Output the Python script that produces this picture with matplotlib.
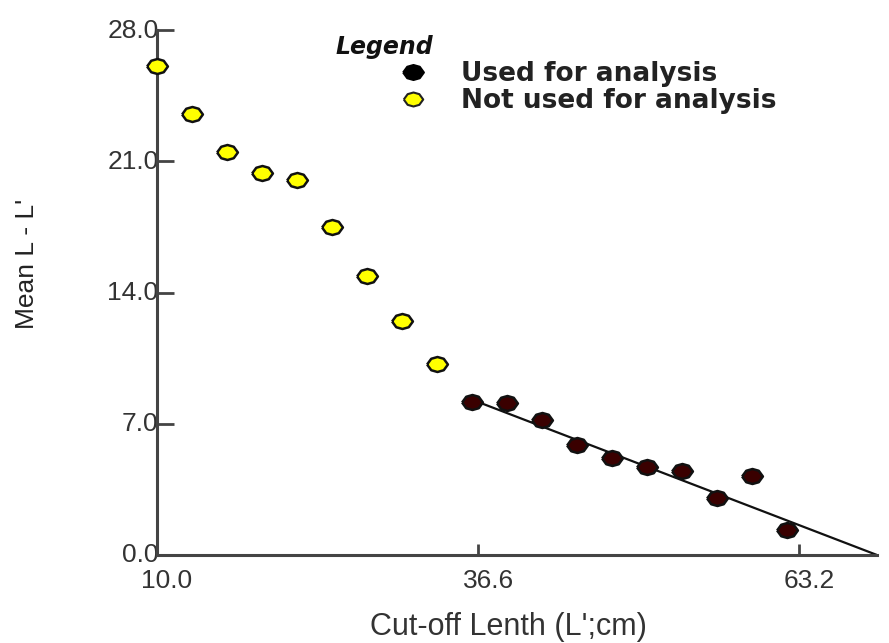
import matplotlib
matplotlib.use("Agg")
from matplotlib import pyplot as plt
from matplotlib import transforms
from matplotlib.lines import Line2D

# cut-off length classes (L', cm) and mean L - L' above each cut-off
not_used_x = [10.0, 12.9, 15.8, 18.7, 21.6, 24.5, 27.4, 30.3, 33.2]
not_used_y = [26.1, 23.5, 21.5, 20.4, 20.0, 17.5, 14.9, 12.5, 10.2]
used_x = [36.1, 39.0, 41.9, 44.8, 47.7, 50.6, 53.5, 56.4, 59.3, 62.2]
used_y = [8.15, 8.1, 7.2, 5.85, 5.2, 4.7, 4.5, 3.05, 4.2, 1.35]

# regression line a + b * L' fitted on the points used for analysis
reg_a = 17.2
reg_b = -0.247
l_inf = -reg_a / reg_b

x_ticks = [10.0, 36.6, 63.2]
y_ticks = [0.0, 7.0, 14.0, 21.0, 28.0]

# squashed octagon used as the point marker
blob = [(-1, 0), (-0.6, 0.55), (0, 0.72), (0.6, 0.55), (1, 0),
        (0.6, -0.55), (0, -0.72), (-0.6, -0.55), (-1, 0)]

text_col = "#333333"

fig = plt.figure(figsize=(8.89, 6.43), dpi=100)
ax = fig.add_axes([157 / 889, 88 / 643, 720 / 889, 525 / 643])

ax.plot([used_x[0], l_inf], [reg_a + reg_b * used_x[0], 0.0],
        color="#111111", lw=1.6, zorder=2)
ax.plot(not_used_x, not_used_y, ls="none", marker=blob, ms=15,
        mfc="#ffff00", mec="#111111", mew=1.8, zorder=3, clip_on=False)
ax.plot(used_x, used_y, ls="none", marker=blob, ms=15,
        mfc="#3a0000", mec="#111111", mew=1.8, zorder=3, clip_on=False)

ax.set_xlim(10.0, l_inf)
ax.set_ylim(0.0, 28.0)

for side in ["top", "right"]:
    ax.spines[side].set_visible(False)
for side in ["left", "bottom"]:
    ax.spines[side].set_linewidth(2.2)
    ax.spines[side].set_color("#444444")

ax.set_xticks(x_ticks)
ax.set_xticklabels(["%.1f" % v for v in x_ticks])
ax.set_yticks(y_ticks)
ax.set_yticklabels(["%.1f" % v for v in y_ticks])
ax.tick_params(axis="x", direction="in", length=8, width=2, color="#444444",
               pad=10, labelsize=19, labelcolor=text_col)
ax.tick_params(axis="y", direction="in", length=12, width=2, color="#444444",
               pad=-1, labelsize=19, labelcolor=text_col)

# nudge tick labels the way the original plotting program placed them
for lab in ax.get_xticklabels():
    lab.set_fontfamily("Liberation Sans")
    lab.set_transform(lab.get_transform() + transforms.ScaledTranslation(
        10 / 100, 0, fig.dpi_scale_trans))
for lab in ax.get_yticklabels():
    lab.set_fontfamily("Liberation Sans")
    lab.set_transform(lab.get_transform() + transforms.ScaledTranslation(
        0, 2 / 100, fig.dpi_scale_trans))

ax.set_xlabel("Cut-off Lenth (L';cm)", fontsize=22, color=text_col,
              family="Liberation Sans", va="center", ha="center")
ax.xaxis.set_label_coords((508 - 157) / 720, (555 - 627) / 525)
ax.set_ylabel("Mean L - L'", fontsize=19, color="#222222",
              family="Liberation Sans", va="center", ha="center")
ax.yaxis.set_label_coords((27 - 157) / 720, (555 - 264) / 525)

# legend
fig.text(335 / 889, 1 - 47 / 643, "Legend", fontsize=17, style="italic",
         weight="bold", family="DejaVu Sans", color="#111111", va="center")
handles = [
    Line2D([], [], ls="none", marker=blob, ms=15, mfc="#000000",
           mec="#000000", mew=1.5),
    Line2D([], [], ls="none", marker=blob, ms=14, mfc="#ffff00",
           mec="#222222", mew=1.5),
]
ax.legend(handles, ["Used for analysis", "Not used for analysis"],
          loc="upper left", bbox_to_anchor=(400 / 889, 1 - 61 / 643),
          bbox_transform=fig.transFigure, frameon=False, borderpad=0,
          borderaxespad=0, handlelength=1.0, handletextpad=1.3,
          labelspacing=0.05, prop={"family": "DejaVu Sans", "weight": "bold",
                                   "size": 19}, labelcolor="#222222")

fig.savefig("out.png", dpi=100)
